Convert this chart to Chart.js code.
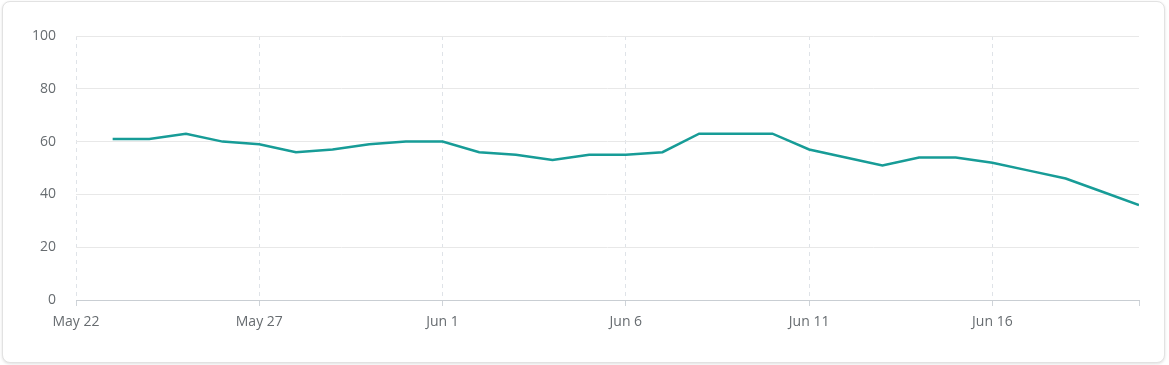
<!DOCTYPE html>
<html>
<head>
<meta charset="UTF-8">
<title>Trend</title>
<script src="https://cdn.jsdelivr.net/npm/chart.js@4/dist/chart.umd.min.js"></script>
<style>
  html, body { margin: 0; padding: 0; background: #ffffff; }
  .card {
    position: absolute; left: 2px; top: 1px; width: 1161px; height: 360px;
    border: 1px solid #e2e2e2; border-radius: 8px; background: #fff;
    box-shadow: 0 1px 3px rgba(0,0,0,0.12);
  }
  #wrap { position: absolute; left: 0; top: 0; width: 1169px; height: 365px; }
</style>
</head>
<body>
<div class="card"></div>
<div id="wrap"><canvas id="myLineChart"></canvas></div>

<script>
// days counted from May 22
var tickDays = [0, 5, 10, 15, 20, 25];
var tickLabels = ['May 22', 'May 27', 'Jun 1', 'Jun 6', 'Jun 11', 'Jun 16'];

var days = [1, 2, 3, 4, 5, 6, 7, 8, 9, 10, 11, 12, 13, 14, 15, 16, 17, 18, 19, 20, 21, 22, 23, 24, 25, 26, 27, 28, 29];
var values = [61, 61, 63, 60, 59, 56, 57, 59, 60, 60, 56, 55, 53, 55, 55, 56, 63, 63, 63, 57, 54, 51, 54, 54, 52, 49, 46, 41, 36];

var points = days.map(function (d, i) { return { x: d, y: values[i] }; });

var textColor = '#676c70';
var font = { family: 'Open Sans', size: 14 };

var ctx = document.getElementById('myLineChart').getContext('2d');
var myLineChart = new Chart(ctx, {
  type: 'line',
  data: {
    datasets: [{
      data: points,
      borderColor: '#179c97',
      borderWidth: 2.5,
      pointRadius: 0,
      tension: 0,
      fill: false
    }]
  },
  options: {
    responsive: true,
    maintainAspectRatio: false,
    animation: false,
    layout: { padding: { left: 0, right: 30, top: 36, bottom: 0 } },
    plugins: { legend: { display: false }, tooltip: { enabled: false } },
    scales: {
      x: {
        type: 'linear',
        min: 0,
        max: 29,
        afterFit: function (scale) { scale.height = 65; },
        afterBuildTicks: function (scale) {
          scale.ticks = tickDays.map(function (v) { return { value: v }; }).concat([{ value: 29 }]);
        },
        ticks: {
          color: textColor,
          font: font,
          padding: 8,
          maxRotation: 0,
          autoSkip: false,
          callback: function (v) {
            var i = tickDays.indexOf(v);
            return i >= 0 ? tickLabels[i] : '';
          }
        },
        grid: {
          color: function (c) { return c.tick && c.tick.value === 29 ? 'rgba(0,0,0,0)' : '#dfe3e8'; },
          tickColor: '#cfd4d9',
          tickLength: 6,
          lineWidth: 1
        },
        border: { color: '#c9ced3', dash: [4, 4] }
      },
      y: {
        min: 0,
        max: 100,
        afterFit: function (scale) { scale.width = 76; },
        ticks: { stepSize: 20, color: textColor, font: font, padding: 20 },
        grid: { color: '#e8e8e8', drawTicks: false },
        border: { display: false }
      }
    }
  }
});
</script>
</body>
</html>
